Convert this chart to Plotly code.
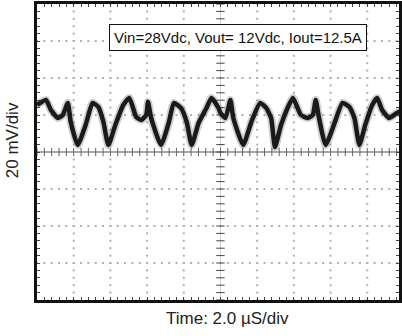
import plotly.graph_objects as go

# ---- data (time in µs, ripple in mV relative to centre line)
time_us = [0.00, 0.49, 0.76, 1.14, 1.41, 1.68, 1.84, 2.22, 2.65, 3.03, 3.35, 3.62, 3.89,
           4.27, 4.70, 5.03, 5.41, 5.68, 5.95, 6.05, 6.22, 6.76, 7.19, 7.46, 7.84, 8.16,
           8.43, 8.81, 9.24, 9.51, 9.89, 10.00, 10.27, 10.54, 10.70, 11.24, 11.68, 12.16,
           12.49, 12.76, 12.97, 13.30, 13.68, 13.95, 14.38, 14.76, 15.03, 15.19, 15.35,
           15.73, 16.22, 16.65, 17.03, 17.30, 17.57, 17.89, 18.27, 18.54, 18.81, 19.19,
           19.62, 20.00]
ripple_mv = [25.4, 28.1, 22.7, 18.4, 20.0, 26.5, 16.2, 3.8, 14.6, 26.5, 24.3, 16.2, 3.8,
             14.6, 25.4, 29.2, 18.9, 17.3, 20.0, 27.0, 18.4, 3.8, 16.2, 26.5, 23.8, 16.2,
             3.8, 15.7, 23.8, 29.2, 23.8, 21.1, 18.4, 28.1, 18.4, 3.8, 16.2, 26.5,
             23.8, 18.4, 2.7, 14.6, 24.3, 29.2, 20.0, 18.4, 20.0, 28.1, 19.5,
             3.8, 15.7, 26.5, 24.3, 18.4, 3.8, 14.6, 25.4, 29.2, 22.7, 18.4,
             21.1, 22.7]

box_text = "Vin=28Vdc, Vout= 12Vdc, Iout=12.5A"
x_title = "Time: 2.0 \u00b5S/div"
y_title = "20 mV/div"

T_DIV = 2.0     # µs per division
V_DIV = 20.0    # mV per division
N_X, N_Y = 10, 8
W, H = 402, 336
L, T, B = 37, 4, 36
PX_DIV = (H - T - B) / N_Y
X_MAX = (W - L) / PX_DIV * T_DIV
V_MAX = N_Y / 2 * V_DIV
PW, PH = W - L, H - T - B

FONT = "Liberation Sans Narrow, Arial Narrow, Liberation Sans, Arial, sans-serif"

fig = go.Figure()

# dotted graticule
gx, gy = [], []
for k in range(1, N_X):
    if k == N_X // 2:
        continue
    for j in range(0, N_Y * 5 + 1):
        gx.append(k * T_DIV)
        gy.append(-V_MAX + j * V_DIV / 5)
for k in range(1, N_Y):
    if k == N_Y // 2:
        continue
    for j in range(0, N_X * 5 + 1):
        gx.append(j * T_DIV / 5)
        gy.append(-V_MAX + k * V_DIV)
fig.add_trace(go.Scatter(x=gx, y=gy, mode="markers", hoverinfo="skip",
                         marker=dict(symbol="square", size=2, color="#b0b0b0",
                                     line=dict(width=0))))

# centre lines
fig.add_shape(type="line", x0=0, x1=X_MAX, y0=0, y1=0,
              line=dict(color="#8a8a8a", width=1.5), layer="below")
fig.add_shape(type="line", x0=N_X / 2 * T_DIV, x1=N_X / 2 * T_DIV, y0=-V_MAX, y1=V_MAX,
              line=dict(color="#d0d0d0", width=1), layer="below")
hx = [j * T_DIV / 5 for j in range(0, N_X * 5 + 1)]
fig.add_trace(go.Scatter(x=hx, y=[0] * len(hx), mode="markers", hoverinfo="skip",
                         marker=dict(symbol="line-ns", size=6, color="#666",
                                     line=dict(width=1, color="#666"))))
vy = [-V_MAX + j * V_DIV / 5 for j in range(0, N_Y * 5 + 1)]
fig.add_trace(go.Scatter(x=[N_X / 2 * T_DIV] * len(vy), y=vy, mode="markers", hoverinfo="skip",
                         marker=dict(symbol="line-ew", size=6, color="#444",
                                     line=dict(width=1, color="#444"))))

# waveform: soft halo + dark core
fig.add_trace(go.Scatter(x=time_us, y=ripple_mv, mode="lines", hoverinfo="skip",
                         line=dict(color="rgba(60,60,60,0.25)", width=8,
                                   shape="spline", smoothing=0.5)))
fig.add_trace(go.Scatter(x=time_us, y=ripple_mv, mode="lines", hoverinfo="skip",
                         line=dict(color="#1a1a1a", width=4.5,
                                   shape="spline", smoothing=0.5)))

fig.add_annotation(x=(240 - L) / PW, y=(H - B - 37) / PH, xref="paper", yref="paper",
                   xanchor="center", yanchor="middle", text=box_text,
                   showarrow=False, font=dict(family=FONT, size=15, color="#111"),
                   bgcolor="white", bordercolor="#111", borderwidth=1, borderpad=4)

fig.add_annotation(x=(12 - L) / PW, y=(H - B - 140) / PH, xref="paper", yref="paper",
                   xanchor="center", yanchor="middle",
                   text=y_title, textangle=-90, showarrow=False,
                   font=dict(family=FONT, size=17, color="#222"))
fig.add_annotation(x=(229 - L) / PW, y=-(318 - (H - B)) / PH,
                   xref="paper", yref="paper", xanchor="center", yanchor="middle",
                   text=x_title, showarrow=False,
                   font=dict(family=FONT, size=17, color="#222"))

fig.update_layout(
    width=W, height=H, margin=dict(l=L, r=0, t=T, b=B),
    paper_bgcolor="white", plot_bgcolor="white", showlegend=False,
)
fig.update_xaxes(range=[0, X_MAX], showgrid=False, zeroline=False, showline=True,
                 linewidth=3, linecolor="#111", mirror="ticks", ticks="inside",
                 ticklen=3, tickcolor="#444", tickwidth=1, tick0=0, dtick=T_DIV / 5,
                 showticklabels=False, fixedrange=True)
fig.update_yaxes(range=[-V_MAX, V_MAX], showgrid=False, zeroline=False, showline=True,
                 linewidth=3, linecolor="#111", mirror="ticks", ticks="inside",
                 ticklen=3, tickcolor="#444", tickwidth=1, tick0=0, dtick=V_DIV / 5,
                 showticklabels=False, fixedrange=True)

fig.write_html("out.html")
